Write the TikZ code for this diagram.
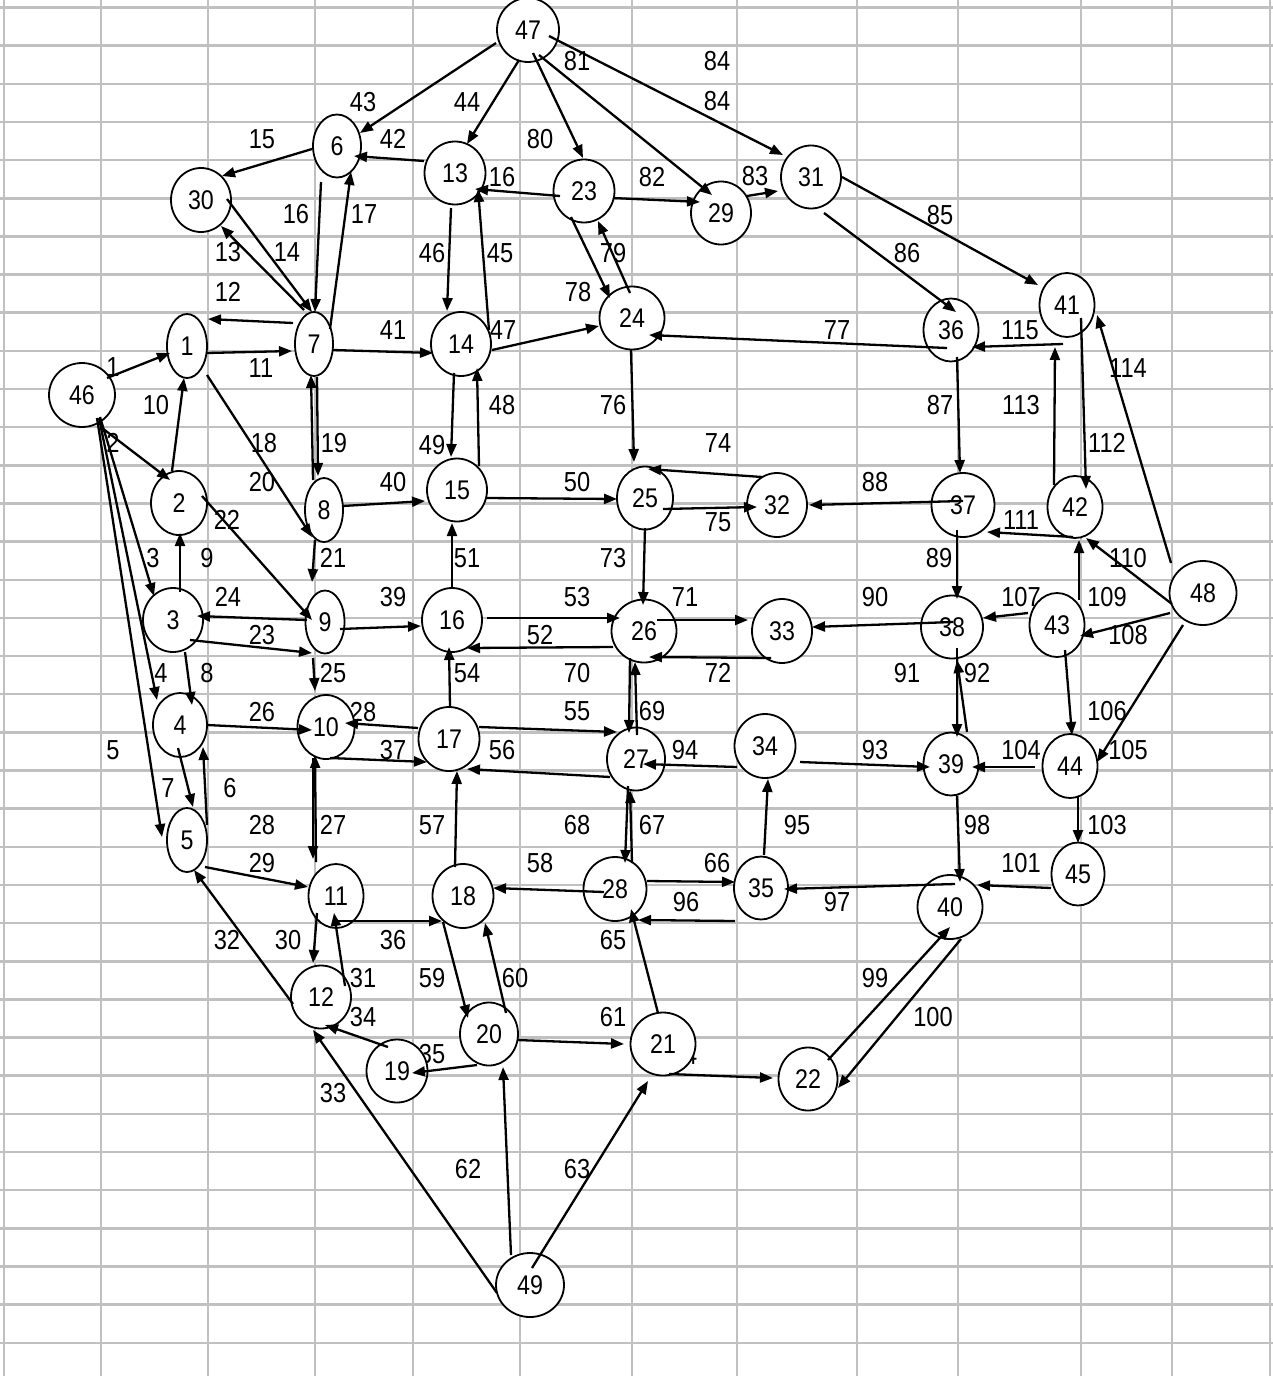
\documentclass[tikz,border=0pt]{standalone}
\usepackage{fontspec}
\setmainfont{Liberation Sans}[FakeStretch=0.86]
\usetikzlibrary{shapes.geometric,arrows.meta,calc}
\definecolor{gridc}{HTML}{C0C0C0}
\newcommand\ndfont{\fontsize{27}{32}\selectfont}
\newcommand\lbfont{\fontsize{27.5}{32}\selectfont}
\newcounter{lbc}
\newcommand\mknode[5]{\node[nd,minimum width=#4pt,minimum height=#5pt] (n#1) at (#2,#3) {#1};}
\newcommand\lb[3]{\stepcounter{lbc}\node[lbl] (lab\thelbc) at (#1,#2) {#3};}
\newcommand\ed[4]{\draw[arr] ($(n#1.center)+(#2)$) -- ($(n#3.center)+(#4)$);}
\begin{document}
\begin{tikzpicture}[x=1pt,y=-1pt,
  nd/.style={ellipse,draw,line width=1.8pt,fill=white,inner sep=0pt,font=\ndfont},
  lbl/.style={inner sep=0pt,font=\lbfont},
  arr/.style={line width=2.3pt,-{Triangle[length=13pt,width=10pt]}},
  gridl/.style={draw=gridc,line width=2.5pt}]
\useasboundingbox[fill=white] (0,0) rectangle (1273,1376);
% grid
\foreach \x in {4,101,208,315,413,520,632,737,857,958,1081,1172,1270}
  \draw[gridl] (\x,0) -- (\x,1376);
\foreach \k in {0,...,35}
  \draw[gridl] (0,{7.5+38.15*\k}) -- (1273,{7.5+38.15*\k});
% edge labels
\lb{577}{61}{81}\lb{717}{61}{84}\lb{717}{101}{84}\lb{363}{102}{43}\lb{467}{102}{44}
\lb{540}{139}{80}\lb{262}{139}{15}\lb{393}{139}{42}\lb{502}{177}{16}\lb{652}{177}{82}
\lb{755}{176}{83}\lb{296}{214}{16}\lb{364}{214}{17}\lb{940}{215}{85}\lb{228}{252}{13}
\lb{287}{252}{14}\lb{432}{253}{46}\lb{500}{253}{45}\lb{613}{253}{79}\lb{907}{253}{86}
\lb{228}{292}{12}\lb{578}{292}{78}\lb{393}{330}{41}\lb{503}{330}{47}\lb{837}{330}{77}
\lb{1020}{330}{115}\lb{113}{367}{1}\lb{261}{368}{11}\lb{1128}{368}{114}\lb{156}{405}{10}
\lb{502}{405}{48}\lb{613}{405}{76}\lb{940}{405}{87}\lb{1021}{405}{113}\lb{113}{443}{2}
\lb{264}{443}{18}\lb{334}{443}{19}\lb{432}{445}{49}\lb{718}{443}{74}\lb{1107}{443}{112}
\lb{262}{482}{20}\lb{393}{482}{40}\lb{577}{482}{50}\lb{875}{482}{88}\lb{227}{520}{22}
\lb{718}{522}{75}\lb{1021}{520}{111}\lb{153}{558}{3}\lb{207}{558}{9}\lb{333}{558}{21}
\lb{467}{558}{51}\lb{613}{558}{73}\lb{939}{558}{89}\lb{1128}{558}{110}\lb{228}{597}{24}
\lb{393}{597}{39}\lb{577}{597}{53}\lb{685}{597}{71}\lb{875}{597}{90}\lb{1021}{597}{107}
\lb{1107}{597}{109}\lb{262}{635}{23}\lb{540}{635}{52}\lb{1128}{635}{108}\lb{161}{673}{4}
\lb{207}{673}{8}\lb{333}{673}{25}\lb{467}{673}{54}\lb{577}{673}{70}\lb{718}{673}{72}
\lb{907}{673}{91}\lb{977}{673}{92}\lb{262}{712}{26}\lb{363}{712}{28}\lb{577}{711}{55}
\lb{652}{711}{69}\lb{1107}{711}{106}\lb{113}{750}{5}\lb{393}{750}{37}\lb{502}{750}{56}
\lb{685}{750}{94}\lb{875}{750}{93}\lb{1021}{750}{104}\lb{1128}{750}{105}\lb{168}{788}{7}
\lb{230}{788}{6}\lb{262}{825}{28}\lb{333}{825}{27}\lb{432}{825}{57}\lb{577}{825}{68}
\lb{652}{825}{67}\lb{797}{825}{95}\lb{977}{825}{98}\lb{1107}{825}{103}\lb{262}{863}{29}
\lb{540}{863}{58}\lb{717}{863}{66}\lb{1021}{863}{101}\lb{686}{902}{96}\lb{837}{902}{97}
\lb{227}{940}{32}\lb{288}{940}{30}\lb{393}{940}{36}\lb{613}{940}{65}\lb{363}{978}{31}
\lb{432}{978}{59}\lb{515}{978}{60}\lb{875}{978}{99}\lb{363}{1017}{34}\lb{613}{1017}{61}
\lb{933}{1017}{100}\lb{432}{1054}{35}\lb{684}{1055}{64}\lb{333}{1093}{33}\lb{468}{1169}{62}
\lb{577}{1169}{63}
% nodes
\mknode{1}{187}{346}{40}{64}
\mknode{2}{179}{503}{56}{64}
\mknode{3}{173}{620}{60}{64}
\mknode{4}{180}{725}{54}{64}
\mknode{5}{187}{840}{40}{64}
\mknode{6}{337}{146}{48}{63}
\mknode{7}{314}{344}{38}{64}
\mknode{8}{324}{510}{38}{64}
\mknode{9}{325}{622}{39}{63}
\mknode{10}{326}{727}{57}{64}
\mknode{11}{336}{896}{55}{64}
\mknode{12}{321}{997}{60}{63}
\mknode{13}{455}{173}{61}{63}
\mknode{14}{461}{344}{60}{64}
\mknode{15}{457}{490}{60}{63}
\mknode{16}{452}{620}{60}{64}
\mknode{17}{449}{739}{61}{64}
\mknode{18}{463}{896}{61}{64}
\mknode{19}{397}{1071}{61}{63}
\mknode{20}{489}{1034}{58}{63}
\mknode{21}{663}{1044}{65}{63}
\mknode{22}{808}{1079}{59}{63}
\mknode{23}{584}{191}{61}{63}
\mknode{24}{632}{318}{65}{63}
\mknode{25}{645}{498}{56}{63}
\mknode{26}{644}{631}{65}{63}
\mknode{27}{636}{759}{58}{63}
\mknode{28}{615}{889}{63}{64}
\mknode{29}{721}{213}{60}{63}
\mknode{30}{201}{200}{60}{64}
\mknode{31}{811}{177}{60}{63}
\mknode{32}{777}{505}{60}{64}
\mknode{33}{782}{631}{60}{64}
\mknode{34}{765}{746}{61}{64}
\mknode{35}{761}{888}{54}{63}
\mknode{36}{951}{330}{55}{63}
\mknode{37}{963}{505}{63}{64}
\mknode{38}{952}{627}{62}{63}
\mknode{39}{951}{764}{55}{63}
\mknode{40}{950}{907}{65}{64}
\mknode{41}{1067}{305}{55}{64}
\mknode{42}{1075}{507}{55}{62}
\mknode{43}{1057}{625}{55}{64}
\mknode{44}{1070}{766}{55}{64}
\mknode{45}{1078}{874}{53}{63}
\mknode{46}{82}{395}{66}{64}
\mknode{47}{528}{30}{62}{64}
\mknode{48}{1203}{593}{67}{64}
\mknode{49}{530}{1285}{68}{64}
% edges
\ed{46}{25,-17}{1}{-17,7}
\ed{46}{20,33}{2}{-9,-23}
\ed{46}{18,22}{3}{-19,-24}
\ed{46}{17,23}{4}{-23,-25}
\ed{46}{15,23}{5}{-25,-3}
\ed{3}{12,32}{4}{12,-20}
\ed{5}{20,-15}{4}{23,22}
\ed{4}{-2,23}{5}{6,-33}
\ed{3}{7,-28}{2}{1,30}
\ed{2}{-7,-32}{1}{-3,32}
\ed{1}{20,7}{7}{-22,7}
\ed{7}{-21,-21}{1}{21,-27}
\ed{7}{-10,-34}{30}{20,26}
\ed{30}{26,-1}{7}{-2,-32}
\ed{6}{-25,3}{30}{21,-24}
\ed{6}{-16,36}{7}{1,-32}
\ed{7}{16,-15}{6}{14,26}
\ed{1}{20,29}{8}{-12,27}
\ed{7}{3,33}{8}{-6,-34}
\ed{8}{-11,-30}{7}{-3,31}
\ed{8}{-9,30}{9}{-13,-40}
\ed{2}{23,-7}{9}{-13,-2}
\ed{3}{17,20}{9}{-13,31}
\ed{9}{-18,-2}{3}{24,-4}
\ed{9}{-12,36}{10}{-11,-36}
\ed{4}{27,0}{10}{-14,3}
\ed{10}{-13,31}{11}{-23,-37}
\ed{11}{-20,-34}{10}{-11,28}
\ed{17}{-31,-11}{10}{19,-4}
\ed{5}{18,27}{11}{-28,-9}
\ed{11}{-19,17}{12}{-8,-34}
\ed{12}{24,-11}{11}{-2,17}
\ed{12}{-28,7}{5}{7,30}
\ed{49}{-33,8}{12}{-8,33}
\ed{19}{-9,-24}{12}{4,28}
\ed{20}{-12,31}{19}{15,2}
\ed{11}{-1,25}{18}{-21,25}
\ed{10}{4,31}{17}{-22,23}
\ed{9}{15,7}{16}{-31,6}
\ed{8}{19,-4}{15}{-32,11}
\ed{7}{19,6}{14}{-28,9}
\ed{13}{-31,-12}{6}{17,10}
\ed{47}{-32,13}{6}{23,-13}
\ed{47}{-9,30}{13}{12,-29}
\ed{14}{28,-14}{13}{23,16}
\ed{13}{-4,35}{14}{-14,-33}
\ed{14}{31,6}{24}{-33,8}
\ed{15}{22,-24}{14}{16,24}
\ed{14}{-7,29}{15}{-6,-33}
\ed{15}{29,8}{25}{-28,1}
\ed{16}{0,-32}{15}{-5,33}
\ed{26}{-31,16}{16}{15,28}
\ed{16}{35,-2}{26}{-24,-13}
\ed{17}{1,-32}{16}{-3,27}
\ed{17}{30,-12}{27}{-19,-27}
\ed{27}{-26,18}{17}{18,30}
\ed{18}{-8,-29}{17}{8,32}
\ed{28}{-11,3}{18}{30,-8}
\ed{18}{-20,26}{20}{-21,-16}
\ed{20}{17,-21}{18}{22,27}
\ed{20}{28,6}{21}{-39,0}
\ed{49}{-19,-30}{20}{14,33}
\ed{49}{2,-17}{21}{-15,37}
\ed{21}{6,30}{22}{-35,-1}
\ed{21}{-5,-31}{28}{16,20}
\ed{28}{32,-8}{35}{-26,-6}
\ed{28}{17,-26}{27}{-6,31}
\ed{27}{-8,27}{28}{10,-26}
\ed{26}{-14,27}{27}{-7,-26}
\ed{27}{1,-24}{26}{-9,31}
\ed{26}{13,-11}{33}{-34,-11}
\ed{33}{-11,27}{26}{5,26}
\ed{25}{0,30}{26}{-1,-26}
\ed{32}{-15,-28}{25}{3,-29}
\ed{25}{18,11}{32}{-20,2}
\ed{24}{-1,32}{25}{-11,-36}
\ed{36}{-4,18}{24}{17,17}
\ed{23}{-13,26}{24}{-22,-20}
\ed{24}{-2,-25}{23}{14,30}
\ed{23}{-24,5}{13}{20,16}
\ed{47}{5,23}{23}{-1,-33}
\ed{47}{11,25}{29}{-9,-18}
\ed{23}{29,7}{29}{-21,-11}
\ed{29}{26,-17}{31}{-33,14}
\ed{47}{21,6}{31}{-28,-22}
\ed{31}{31,0}{41}{-29,-20}
\ed{31}{13,36}{36}{5,-18}
\ed{36}{6,27}{37}{-3,-32}
\ed{37}{0,-4}{32}{32,0}
\ed{37}{-6,25}{38}{5,-28}
\ed{38}{1,-5}{33}{30,-4}
\ed{38}{5,21}{39}{6,-27}
\ed{39}{16,-32}{38}{5,33}
\ed{34}{35,16}{39}{-21,3}
\ed{34}{-28,21}{27}{7,5}
\ed{35}{3,-33}{34}{3,33}
\ed{35}{-26,33}{28}{23,31}
\ed{40}{5,-23}{35}{23,1}
\ed{39}{6,32}{40}{10,-25}
\ed{22}{20,-19}{40}{0,20}
\ed{40}{11,32}{22}{30,9}
\ed{45}{-27,14}{40}{27,-22}
\ed{44}{8,31}{45}{0,-31}
\ed{44}{-35,1}{39}{21,3}
\ed{48}{-20,32}{44}{27,-4}
\ed{43}{8,25}{44}{2,-31}
\ed{43}{-29,-12}{38}{31,-9}
\ed{48}{-33,20}{43}{23,11}
\ed{43}{22,-25}{42}{4,33}
\ed{48}{-31,11}{42}{11,31}
\ed{42}{-2,30}{37}{24,27}
\ed{41}{14,13}{42}{11,-18}
\ed{42}{-21,-22}{41}{-12,42}
\ed{48}{-32,-30}{41}{30,10}
\ed{41}{-4,39}{36}{21,17}
\end{tikzpicture}
\end{document}
